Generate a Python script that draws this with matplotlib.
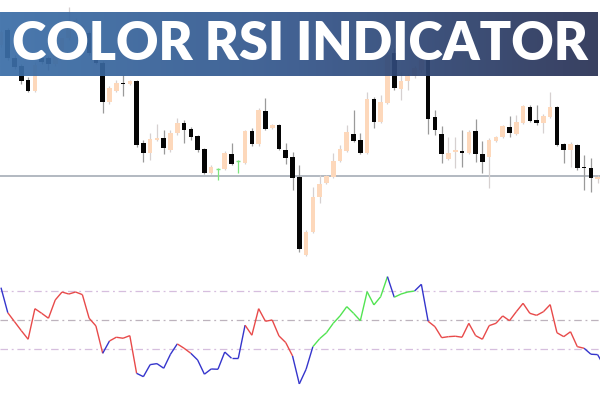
import numpy as np
import matplotlib
matplotlib.use("Agg")
import matplotlib.pyplot as plt
from matplotlib.collections import LineCollection
from matplotlib.colors import LinearSegmentedColormap

# --- price candles (open, high, low, close) ---
opens  = [205, 220, 192, 184, 170, 159, 192, 192, 186, 200, 212, 228, 217, 217, 197,
          187, 148, 159, 167, 166, 169, 107, 97, 110, 112, 100, 117, 127, 121, 114,
          101, 77, 81.5, 81, 96, 89, 87, 119, 106, 139, 122, 125, 100, 93, 73,
          -5, 18, 53, 67, 73, 89, 99, 116, 110, 97, 151, 128, 147, 197, 161,
          169, 174, 180, 190, 133, 116, 91, 98, 99, 97, 119, 96, 93, 109, 113,
          123, 116, 127, 143, 130, 127, 133, 143, 106, 100, 105, 83, 82, 71]
highs  = [220, 222, 195, 186, 173, 188, 195, 194, 188, 202, 243, 232, 226, 219, 199,
          189, 164, 170, 175, 170, 170, 110, 117, 126, 120, 120, 132, 130, 123, 115,
          102, 85, 82.5, 99, 107, 90, 120, 122, 142, 152, 126, 126, 107, 98, 85,
          20, 63, 75, 75, 97, 105, 125, 140, 117, 158, 153, 155, 198, 202, 178,
          176, 184, 194, 192, 140, 124, 113, 113, 120, 120, 131, 109, 112, 114, 125,
          134, 135, 145, 145, 145, 136, 158, 144, 107, 108, 106, 95, 92, 75]
lows   = [203, 190, 181, 166, 158, 158, 186, 180, 184, 198, 210, 224, 216, 195, 186,
          137, 146, 158, 154, 165, 103, 88, 90, 109, 96, 98, 115, 107, 110, 98,
          76, 76, 70, 80, 85, 77, 86, 104, 104, 120, 121, 100, 86, 60, -2,
          -6, 17, 47, 66, 72, 88, 98, 108, 96, 96, 122, 127, 146, 160, 150,
          160, 172, 178, 116, 115, 87, 90, 82, 83, 96, 88, 77, 62, 108, 112,
          113, 115, 126, 128, 125, 117, 132, 104, 87, 83, 80, 60, 58, 67]
closes = [218, 192, 183, 169, 159, 185, 188, 186, 200, 212, 228, 230, 224, 197, 187,
          148, 162, 167, 166, 169, 105, 97, 111, 112, 102, 117, 127, 120, 113, 100,
          77, 83, 81.5, 97, 86, 89, 119, 106, 140, 121, 125, 101, 92, 72, 1,
          18, 53, 66, 74, 89, 101, 118, 109, 97, 151, 128, 148, 195, 162, 169,
          174, 182, 190, 131, 120, 96, 97, 100, 97, 118, 96, 88, 110, 113, 124,
          117, 128, 144, 129, 127, 134, 143, 105, 100, 106, 82, 82, 72, 73]
level_price = 74

# --- colour RSI line ---
rsi = [72.5, 55.2, 49.0, 42.8, 36.9, 58.0, 54.8, 51.4, 64.0, 69.5,
       68.1, 69.5, 67.7, 51.4, 46.1, 27.2, 35.7, 38.3, 37.6, 39.4,
       13.4, 11.1, 19.4, 20.1, 16.9, 26.6, 33.7, 30.7, 27.2, 22.6,
       12.8, 16.4, 16.2, 28.1, 23.8, 23.8, 46.6, 39.7, 58.0, 49.3,
       50.2, 39.2, 34.6, 25.4, 6.1, 16.2, 31.8, 37.3, 41.4, 47.9,
       53.0, 59.4, 54.8, 49.7, 69.7, 60.6, 66.3, 80.1, 65.9, 68.1,
       69.5, 70.2, 74.8, 49.3, 45.6, 38.0, 38.7, 39.0, 38.3, 47.9,
       39.4, 36.9, 46.3, 47.9, 53.0, 49.7, 55.9, 61.7, 54.8, 53.4,
       55.9, 60.8, 41.4, 38.7, 42.1, 31.8, 30.7, 26.6, 26.3, 18.0]
# colour of each run of segments: (number of segments, state)
rsi_runs = [(1, 'b'), (14, 'r'), (1, 'b'), (4, 'r'), (6, 'b'), (2, 'r'), (8, 'b'),
            (7, 'r'), (3, 'b'), (11, 'g'), (1, 'b'), (3, 'g'), (2, 'b'), (23, 'r'), (3, 'b')]
rsi_levels = [70, 50, 30]

title = "COLOR RSI INDICATOR"

bull_col = '#fdd8bb'
bear_col = '#050505'
doji_col = '#7ee47e'
state_col = {'r': '#e84a4a', 'b': '#3535cc', 'g': '#52e452'}

fig = plt.figure(figsize=(6, 4), dpi=100)
fig.patch.set_facecolor('white')

n = len(opens)
xs = np.arange(1, n + 1)
xlim = (1 - 1 / 6.78, 1 + 599 / 6.78)

# price panel
ax = fig.add_axes([0, 0.35, 1, 0.65])
ax.set_xlim(*xlim)
ax.set_ylim(-10, 250)
ax.axis('off')
ax.axhline(level_price, color='#9ea6b0', lw=1.1, zorder=1)
for x, o, h, l, c in zip(xs, opens, highs, lows, closes):
    if c > o:
        body, wick = bull_col, '#d6d0d0'
    elif c < o:
        body, wick = bear_col, '#9a9a9a'
    else:
        body, wick = doji_col, doji_col
    ax.vlines(x, l, h, color=wick, lw=0.9, zorder=2)
    if c == o:
        ax.hlines(o, x - 0.3, x + 0.3, color=body, lw=1, zorder=3)
    else:
        ax.bar(x, max(abs(c - o), 1), bottom=min(o, c), width=0.68,
               color=body, edgecolor='none', zorder=3)

# rsi panel
rax = fig.add_axes([0, 0, 1, 0.345])
rax.set_xlim(*xlim)
rax.set_ylim(-5, 90.2)
rax.axis('off')
lvl_cols = ['#d6bede', '#bdb3bd', '#d6bede']
for lv, lc in zip(rsi_levels, lvl_cols):
    rax.axhline(lv, color=lc, lw=0.9, ls=(0, (6, 3, 1.5, 3)), zorder=1)

seg_cols = []
for cnt, st in rsi_runs:
    seg_cols += [state_col[st]] * cnt
pts = np.column_stack([np.arange(1, len(rsi) + 1), rsi])
segs = [pts[i:i + 2] for i in range(len(rsi) - 1)]
rax.add_collection(LineCollection(segs, colors=seg_cols, lw=1.0, zorder=2))

# title banner
bax = fig.add_axes([0, 324 / 400, 598 / 600, 64 / 400])
cmap = LinearSegmentedColormap.from_list('ban', ['#3c6fa8', '#33558a', '#2a3255'])
bax.imshow(np.linspace(0, 1, 256)[None, :], cmap=cmap, aspect='auto',
           extent=[0, 1, 0, 1], alpha=0.93)
bax.set_xlim(0, 1)
bax.set_ylim(0, 1)
bax.axis('off')
bax.patch.set_alpha(0)

t = fig.text(0.5, 1 - 44.5 / 400, title, color='white', fontsize=40,
             fontfamily='Lato', fontweight='heavy', ha='center', va='center')
fig.canvas.draw()
w = t.get_window_extent().width
t.set_fontsize(40 * 576 / w)

fig.savefig('out.png', dpi=100)
